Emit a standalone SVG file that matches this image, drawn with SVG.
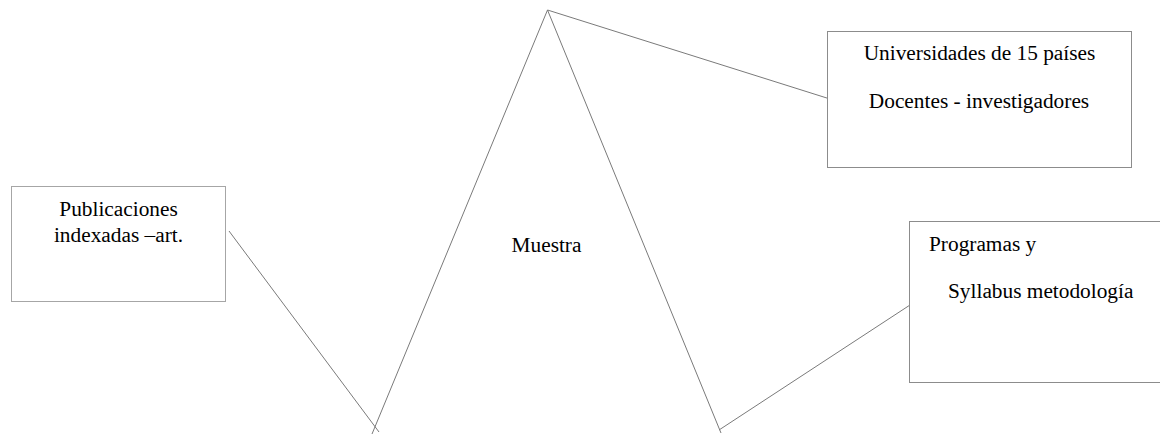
<svg xmlns="http://www.w3.org/2000/svg" width="1160" height="434" viewBox="0 0 1160 434">
<style>
.box{fill:#fff;stroke:#8c8c8c;stroke-width:1}
.lbox{stroke:#a6a6a6}
text{font-family:'Liberation Serif','Times New Roman',Tinos,'DejaVu Serif',serif;font-size:21.33px;fill:#000}
.c{text-anchor:middle}
.ln{stroke:#7a7a7a;stroke-width:1;fill:none}
</style>
<rect width="1160" height="434" fill="#fff"/>
<g id="connectors">
<line class="ln" x1="229" y1="231" x2="379" y2="432"/>
<line class="ln" x1="372" y1="434" x2="547.5" y2="10"/>
<line class="ln" x1="547.5" y1="10" x2="721" y2="433"/>
<line class="ln" x1="547.5" y1="10" x2="830" y2="99"/>
<line class="ln" x1="719" y1="430" x2="910" y2="305"/>
</g>
<g id="node-publicaciones">
<rect class="box lbox" x="11.5" y="186.5" width="214" height="115"/>
<text class="c" x="118.5" y="215.7">Publicaciones</text>
<text class="c" x="118.5" y="241.7">indexadas –art.</text>
</g>
<g id="node-muestra">
<text class="c" x="546.5" y="252">Muestra</text>
</g>
<g id="node-universidades">
<rect class="box" x="827.5" y="31.5" width="304" height="136"/>
<text class="c" x="979.5" y="60">Universidades de 15 países</text>
<text class="c" x="979" y="108">Docentes - investigadores</text>
</g>
<g id="node-programas">
<rect class="box" x="909.5" y="221.5" width="262" height="161"/>
<text x="929" y="250.7">Programas y</text>
<text x="948" y="298">Syllabus metodología</text>
</g>
</svg>
